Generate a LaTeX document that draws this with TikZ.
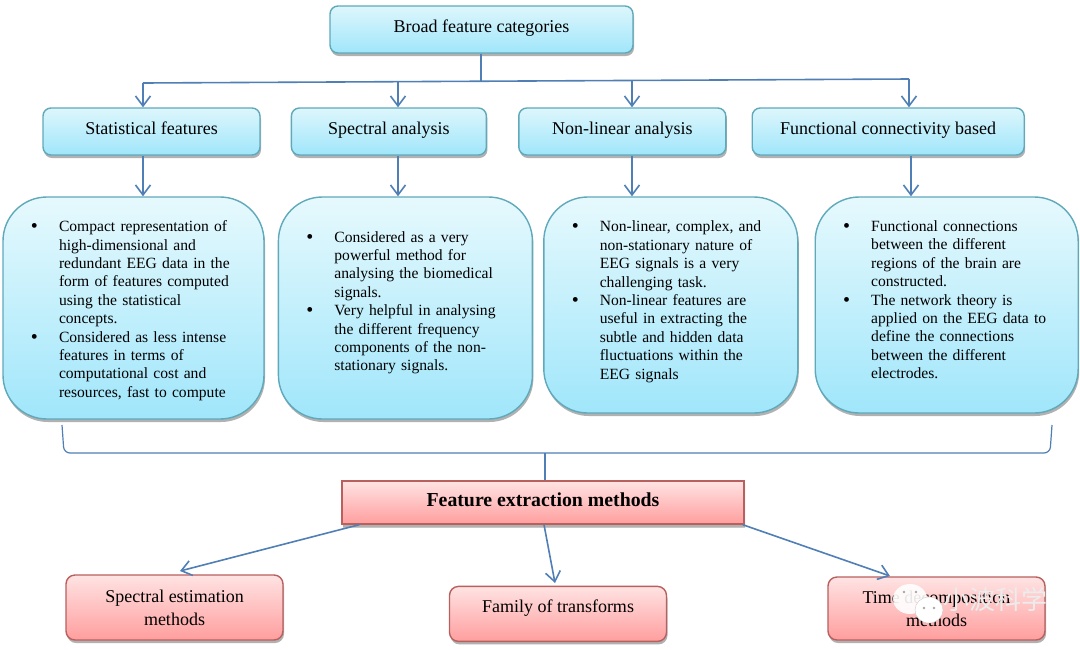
\documentclass[tikz,border=0pt]{standalone}
\usepackage{fontspec}
\setmainfont{Liberation Serif}
\newfontfamily\cjkfont{Noto Sans CJK SC}
\usetikzlibrary{arrows.meta,positioning,shadows}

% bullets inside the big boxes: #1 left margin, #2 space kept free below
\newenvironment{boxlist}[2]{%
  \def\bottompad{#2}%
  \begin{list}{\raisebox{-1pt}{\fontsize{20}{20}\selectfont\textbullet}}{%
    \setlength{\topsep}{0pt}\setlength{\partopsep}{0pt}%
    \setlength{\parsep}{0pt}\setlength{\itemsep}{0pt}%
    \setlength{\leftmargin}{#1}\setlength{\labelwidth}{10pt}%
    \setlength{\labelsep}{21pt}}%
}{\end{list}\vspace*{\bottompad}\nointerlineskip\hbox{}}

\begin{document}
\begin{tikzpicture}[
      x=1pt,y=-1pt,
      softshadow/.style={
         drop shadow={top color=black,bottom color=black,opacity=0.22,shadow xshift=1pt,shadow yshift=-3pt}},
      bluebox/.style={
         rectangle,
         softshadow,
         draw=boxline,
         line width=1.4pt,
         top color=boxtop,
         bottom color=boxbottom,
         rounded corners=8pt,
         inner sep=0pt,
         minimum height=47pt,
         align=center},
      titlebox/.style={
         bluebox,
         text height=10pt,
         text depth=5pt,
         font=\fontsize{18}{21}\selectfont},
      bigbox/.style={
         bluebox,
         rounded corners=44pt,
         top color=bigtop,
         text width=\pgfkeysvalueof{/pgf/minimum width},
         align=left,
         font=\fontsize{15.6}{18.4}\selectfont},
      pinkbox/.style={
         rectangle,
         softshadow,
         draw=pinkline,
         line width=1.4pt,
         top color=pinktop,
         bottom color=pinkbottom,
         rounded corners=9pt,
         inner sep=0pt,
         minimum width=217pt,
         align=center,
         font=\fontsize{18}{23}\selectfont},
      myarrow/.style={-{Straight Barb[length=10pt,width=15pt]},draw=linkblue,line width=1.6pt},
      myline/.style={draw=linkblue,line width=1.6pt},
      mybracket/.style={draw=linkblue,line width=1.2pt}
      ]
      \definecolor{boxline}{HTML}{5FA9BA}
      \definecolor{boxtop}{HTML}{DDF6FC}
      \definecolor{boxbottom}{HTML}{A0E6FB}
      \definecolor{bigtop}{HTML}{E6F9FD}
      \definecolor{pinkline}{HTML}{B8605E}
      \definecolor{pinktop}{HTML}{FFE3E3}
      \definecolor{pinkbottom}{HTML}{FF9E9E}
      \definecolor{linkblue}{HTML}{4F7FB5}

      \useasboundingbox (0,0) rectangle (1080,649);

      \node[titlebox,minimum width=303pt] (broad) at (481.5,29.5) {Broad feature categories};

      \node[titlebox,minimum width=217pt] (stat) at (151.5,131.5) {Statistical features};
      \node[titlebox,minimum width=195pt,right=30pt of stat] (spec) {Spectral analysis};
      \node[titlebox,minimum width=207pt,right=31pt of spec] (nonlin) {Non-linear analysis};
      \node[titlebox,minimum width=272pt,right=25pt of nonlin] (func) {Functional connectivity based};

      \node[bigbox,minimum width=261pt,minimum height=222pt] (statbody) at (133.5,308) {%
        \begin{boxlist}{56pt}{2pt}
        \item Compact representation of\\high-dimensional and\\redundant EEG data in the\\form of features computed\\using the statistical\\concepts.
        \item Considered as less intense\\features in terms of\\computational cost and\\resources, fast to compute
        \end{boxlist}};
      \node[bigbox,minimum width=254pt,minimum height=222pt,right=13pt of statbody] (specbody) {%
        \begin{boxlist}{56pt}{18pt}
        \item Considered as a very\\powerful method for\\analysing the biomedical\\signals.
        \item Very helpful in analysing\\the different frequency\\components of the non-\\stationary signals.
        \end{boxlist}};
      \node[bigbox,minimum width=254pt,minimum height=216pt,right=10pt of specbody,yshift=3pt] (nonlinbody) {%
        \begin{boxlist}{56pt}{14pt}
        \item Non-linear, complex, and\\non-stationary nature of\\EEG signals is a very\\challenging task.
        \item Non-linear features are\\useful in extracting the\\subtle and hidden data\\fluctuations within the\\EEG signals
        \end{boxlist}};
      \node[bigbox,minimum width=263pt,minimum height=216pt,right=16pt of nonlinbody] (funcbody) {%
        \begin{boxlist}{56pt}{18pt}
        \item Functional connections\\between the different\\regions of the brain are\\constructed.
        \item The network theory is\\applied on the EEG data to\\define the connections\\between the different\\electrodes.
        \end{boxlist}};

      \node[pinkbox,rounded corners=0pt,minimum width=402pt,minimum height=43pt,
            text height=12pt,text depth=5pt,
            font=\fontsize{19.8}{23}\selectfont\bfseries] (main) at (543,502.5) {Feature extraction methods};
      \node[pinkbox,minimum height=65pt] (specest) at (174.5,607.5) {Spectral estimation\\methods};
      \node[pinkbox,minimum height=55pt,text height=6pt,text depth=9pt,below=61pt of main,xshift=15pt] (family) {Family of transforms};
      \node[pinkbox,minimum height=63pt] (timedec) at (936.5,608.5) {Time decomposition\\methods};

      % the bus under the top box leans a little
      \coordinate (busl) at (143,83);
      \coordinate (busr) at (909,79);
      \coordinate (brl) at (62,425);
      \coordinate (brr) at (1052,425);
      \coordinate (brm) at (545,453);
      \coordinate (estin) at (180,571);
      \coordinate (famin) at (555,583);
      \coordinate (timein) at (890,576);

      \draw[myline] (481,0 |- broad.south) -- (481,81.5);
      \draw[myline] (busl) -- (busr);
      \foreach \j/\x/\y in {% end node/x of arrow/y on the bus
        stat/143/83,
        spec/398/81.7,
        nonlin/632/80.4,
        func/909/79}
         \draw [myarrow] (\x,\y) -- (\x,0 |- \j.north);

      \foreach \i/\j/\x in {% start node/end node/x of arrow
        stat/statbody/143,
        spec/specbody/398,
        nonlin/nonlinbody/632,
        func/funcbody/911}
         \draw [myarrow] (\x,0 |- \i.south) -- (\x,0 |- \j.north);

      % bracket below the four big boxes
      \draw[mybracket,rounded corners=6pt] (brl) -- (64,453) -- (1050,453) -- (brr);
      \draw[mybracket] (brm) -- (main.north -| brm);

      \draw [myarrow] ([xshift=18pt]main.south west) -- (estin);
      \draw [myarrow] (544,0 |- main.south) -- (famin);
      \draw [myarrow] ([xshift=-2pt]main.south east) -- (timein);

      % watermark on top of the last box
      \fill[white,opacity=0.9] (910,599) ellipse (17pt and 15pt);
      \fill[white,draw=gray!40] (929,610) ellipse (14pt and 13pt);
      \fill[gray!70] (904,592) circle (1.3pt) (916,592) circle (1.3pt) (924,608) circle (1.3pt) (934,608) circle (1.3pt);
      \node[text=gray!15,font=\cjkfont\fontsize{26}{26}\selectfont,inner sep=0pt] (mark) at (995,600) {小波科学};
    \end{tikzpicture}
\end{document}
